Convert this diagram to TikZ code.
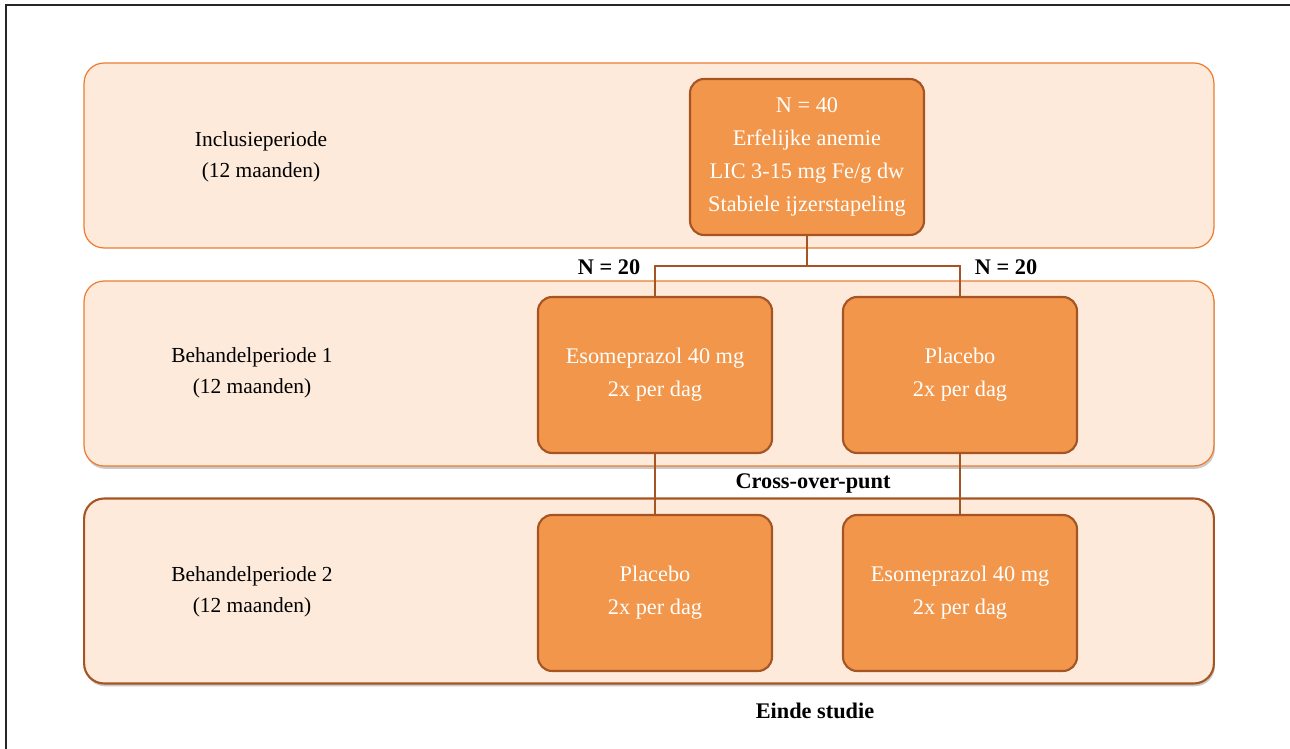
\documentclass[tikz,border=0pt]{standalone}
\usepackage{fontspec}
\setmainfont{Liberation Serif}
\usetikzlibrary{shadows,positioning}

\definecolor{bandfill}{HTML}{FDEADA}
\definecolor{bandline}{HTML}{ED7D31}
\definecolor{boxfill}{HTML}{F1964A}
\definecolor{boxline}{HTML}{A65423}

\tikzset{
  band/.style={draw=bandline, fill=bandfill, rounded corners=0.4cm, minimum width=22.6cm, minimum height=3.7cm, line width=0.7pt},
  bandshadow/.style={drop shadow={shadow xshift=0.6pt, shadow yshift=-1.6pt, opacity=0.35, fill=black!60}},
  armbox/.style={draw=boxline, fill=boxfill, rounded corners=0.28cm, minimum width=4.68cm, minimum height=3.12cm, line width=1.2pt, text=white, align=center, font=\fontsize{12.7}{18.7}\selectfont},
  period/.style={align=center, font=\fontsize{12.2}{17.5}\selectfont},
  marker/.style={font=\bfseries\fontsize{12.7}{15}\selectfont},
  link/.style={draw=boxline, line width=1.2pt},
  frame/.style={draw=black!85, line width=0.7pt}
}

\begin{document}
\begin{tikzpicture}[x=0.02cm,y=-0.02cm]
\useasboundingbox (0,0) rectangle (1290,749);

%frame
\draw[frame] (6,749) -- (6,5) -- (1290,5);

%periods
\node[band] (incl) at (649,155.5) {};
\node[band, bandshadow] (beh1) at (649,373.5) {};
\node[band, bandshadow, draw=boxline, line width=1.2pt] (beh2) at (649,591) {};
\node[period] (lincl) at (261,157) {Inclusieperiode\\(12 maanden)};
\node[period] (lbeh1) at (252,373) {Behandelperiode 1\\(12 maanden)};
\node[period] (lbeh2) at (252,592) {Behandelperiode 2\\(12 maanden)};

%arms
\node[armbox] (start) at (807,157) {N = 40\\Erfelijke anemie\\LIC 3-15 mg Fe/g dw\\Stabiele ijzerstapeling};
\node[armbox] (esoA) at (655,375) {Esomeprazol 40 mg\\2x per dag};
\node[armbox] (plaA) at (960,375) {Placebo\\2x per dag};
\node[armbox] (plaB) at (655,593) {Placebo\\2x per dag};
\node[armbox] (esoB) at (960,593) {Esomeprazol 40 mg\\2x per dag};

%randomisation
\coordinate (split) at (807,266);
\draw[link] (start.south) -- (split);
\draw[link] (esoA.north) |- (split) -| (plaA.north);
%cross-over
\draw[link] (esoA.south) -- (plaB.north);
\draw[link] (plaA.south) -- (esoB.north);

%markers
\node[marker] (nleft) at (609,267) {N = 20};
\node[marker] (nright) at (1006,267) {N = 20};
\node[marker] (cross) at (813,483) {Cross-over-punt};
\node[marker] (einde) at (815,711) {Einde studie};

\end{tikzpicture}
\end{document}
